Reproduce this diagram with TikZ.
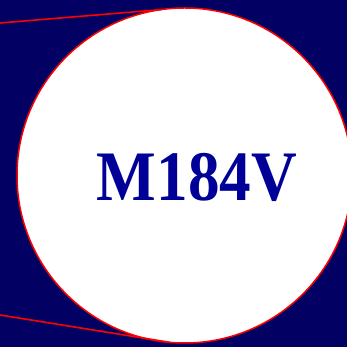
\documentclass[tikz,border=0pt]{standalone}
\usepackage{fontspec}
\setmainfont{Liberation Serif}
\usetikzlibrary{calc, positioning}
\definecolor{navybg}{RGB}{2,0,98}
\definecolor{mutblue}{RGB}{0,0,153}

\begin{document}
\begin{tikzpicture}[x=1pt, y=1pt,
    lens/.style={circle, draw=red, line width=1.5pt, fill=white, minimum size=335pt, inner sep=0pt, outer sep=0pt},
    callout/.style={draw=red, line width=1.6pt}]
    \fill[navybg] (0,0) rectangle (347,347);
    \useasboundingbox (0,0) rectangle (347,347);
    \node[lens] (zoom) at (184.5,171.5) {};
    \node[font=\fontsize{71}{71}\selectfont\bfseries, text=mutblue, xscale=0.89] (mut) at (197,170) {M184V};
    \coordinate (t) at (0,324);
    \coordinate (b) at (0,32);
    \draw[callout] (t) -- (zoom.98.3);
    \draw[callout] (b) -- (zoom.265.7);
  \end{tikzpicture}
\end{document}
